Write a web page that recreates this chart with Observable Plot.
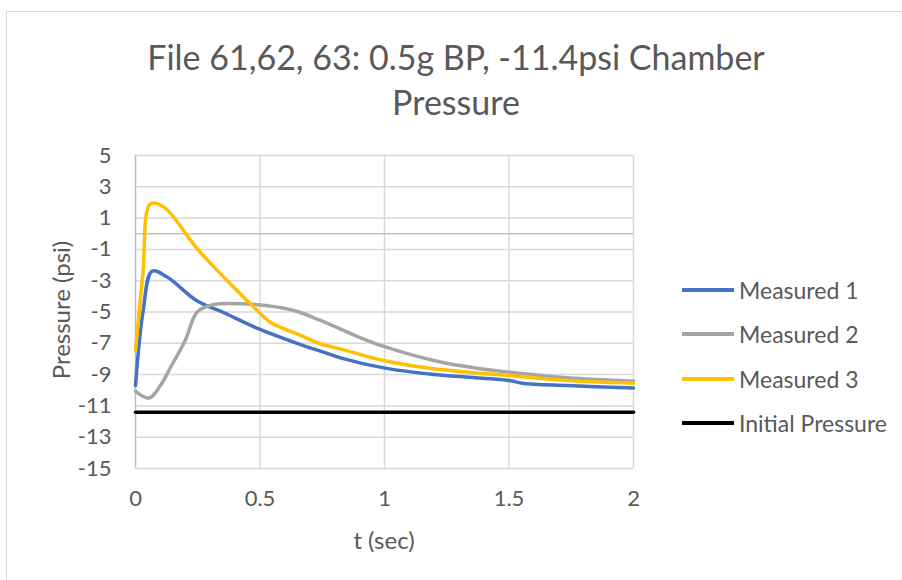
<!DOCTYPE html>
<html>
<head>
<meta charset="utf-8">
<script src="https://cdn.jsdelivr.net/npm/d3@7"></script>
<script src="https://cdn.jsdelivr.net/npm/@observablehq/plot@0.6"></script>
<style>
  html, body { margin: 0; padding: 0; background: #fff; }
  #wrap { position: relative; width: 902px; height: 580px; overflow: hidden; font-family: Lato, "Open Sans", sans-serif; color: #595959; }
  #frame { position: absolute; left: 6px; top: 11px; width: 1000px; height: 1000px; border: 1.5px solid #d9d9d9; box-sizing: border-box; }
  #chart { position: absolute; left: 0; top: 0; }
  .title { position: absolute; left: 0; width: 912px; text-align: center; font-size: 34px; line-height: 1; white-space: nowrap; }
  .ylab { position: absolute; left: 60px; top: 310px; transform: translate(-50%, -50%) rotate(-90deg); font-size: 24px; white-space: nowrap; }
  .xlab { position: absolute; left: 384px; top: 539px; transform: translate(-50%, -50%); font-size: 24px; white-space: nowrap; }
  .leg { position: absolute; left: 682px; height: 24px; display: flex; align-items: center; font-size: 23px; white-space: nowrap; }
  .leg .sw { width: 52px; height: 3.5px; margin-right: 5px; }
</style>
</head>
<body>
<div id="wrap">
  <div id="frame"></div>
  <div id="chart"></div>
  <div class="title" style="top:40px">File 61,62, 63: 0.5g BP, -11.4psi Chamber</div>
  <div class="title" style="top:85px">Pressure</div>
  <div class="ylab">Pressure (psi)</div>
  <div class="xlab">t (sec)</div>
  <div id="legend"></div>
</div>
<script>
// Series data
const t1 = [0, 0.03, 0.067, 0.127, 0.248, 0.341, 0.495, 0.663, 0.743, 0.823, 0.997, 1.198, 1.5, 1.553, 1.734, 2];
const m1 = [-9.7, -5.0, -2.39, -2.77, -4.3, -4.95, -6.08, -7.08, -7.5, -7.93, -8.57, -9.0, -9.38, -9.55, -9.7, -9.85];

const t2 = [0, 0.054, 0.1, 0.141, 0.2, 0.248, 0.315, 0.475, 0.636, 0.743, 0.904, 0.997, 1.198, 1.372, 1.5, 1.734, 2];
const m2 = [-10.06, -10.5, -9.7, -8.53, -6.8, -5.0, -4.52, -4.52, -4.9, -5.54, -6.65, -7.2, -8.1, -8.6, -8.84, -9.2, -9.42];

const t3 = [0, 0.03, 0.06, 0.114, 0.248, 0.368, 0.495, 0.542, 0.663, 0.743, 0.837, 0.997, 1.198, 1.5, 1.734, 2];
const m3 = [-7.46, -2.5, 1.91, 1.7, -0.96, -2.99, -5.0, -5.65, -6.5, -7.03, -7.42, -8.1, -8.63, -9.06, -9.38, -9.55];

const tInit = [0, 2];
const initPressure = [-11.4, -11.4];

const yTicks = [5, 3, 1, -1, -3, -5, -7, -9, -11, -13, -15];
const xTicks = [0, 0.5, 1, 1.5, 2];

const seriesNames = ["Measured 1", "Measured 2", "Measured 3", "Initial Pressure"];
const seriesColors = ["#4472C4", "#A5A5A5", "#FFC000", "#000000"];

const toRows = (ts, vs, s) => ts.map((t, i) => ({t, v: vs[i], s}));
const rows = [
  ...toRows(t1, m1, seriesNames[0]),
  ...toRows(t2, m2, seriesNames[1]),
  ...toRows(t3, m3, seriesNames[2])
];
const initRows = toRows(tInit, initPressure, seriesNames[3]);

const plot = Plot.plot({
  width: 902,
  height: 580,
  marginLeft: 135,
  marginRight: 269,
  marginTop: 155,
  marginBottom: 112,
  style: { fontFamily: "Lato, 'Open Sans', sans-serif", fontSize: "22px", color: "#595959", background: "transparent" },
  x: { domain: [0, 2], label: null },
  y: { domain: [-15, 5], label: null },
  color: { domain: seriesNames, range: seriesColors },
  marks: [
    Plot.gridY(yTicks, { stroke: "#d9d9d9", strokeOpacity: 1, strokeWidth: 1.5 }),
    Plot.gridX(xTicks.filter(d => d > 0), { stroke: "#d9d9d9", strokeOpacity: 1, strokeWidth: 1.5 }),
    Plot.ruleY([0], { stroke: "#bfbfbf", strokeWidth: 1.5 }),
    Plot.ruleX([0], { stroke: "#bfbfbf", strokeWidth: 1.5 }),
    Plot.axisY({ ticks: yTicks, tickSize: 0, tickPadding: 24, tickFormat: d => String(d), fontSize: 22, label: null }),
    Plot.axisX({ ticks: xTicks, tickSize: 0, tickPadding: 22, tickFormat: d => String(d), fontSize: 22, label: null }),
    Plot.line(rows, { x: "t", y: "v", z: "s", stroke: "s", strokeWidth: 3.5, curve: "catmull-rom" }),
    Plot.line(initRows, { x: "t", y: "v", stroke: "s", strokeWidth: 3.5 })
  ]
});
document.getElementById("chart").appendChild(plot);

// Legend
const legend = document.getElementById("legend");
const legY = [290, 334, 379, 423];
seriesNames.forEach((name, i) => {
  const d = document.createElement("div");
  d.className = "leg";
  d.style.top = (legY[i] - 12) + "px";
  d.innerHTML = `<div class="sw" style="background:${seriesColors[i]}"></div><span>${name}</span>`;
  legend.appendChild(d);
});
</script>
</body>
</html>
